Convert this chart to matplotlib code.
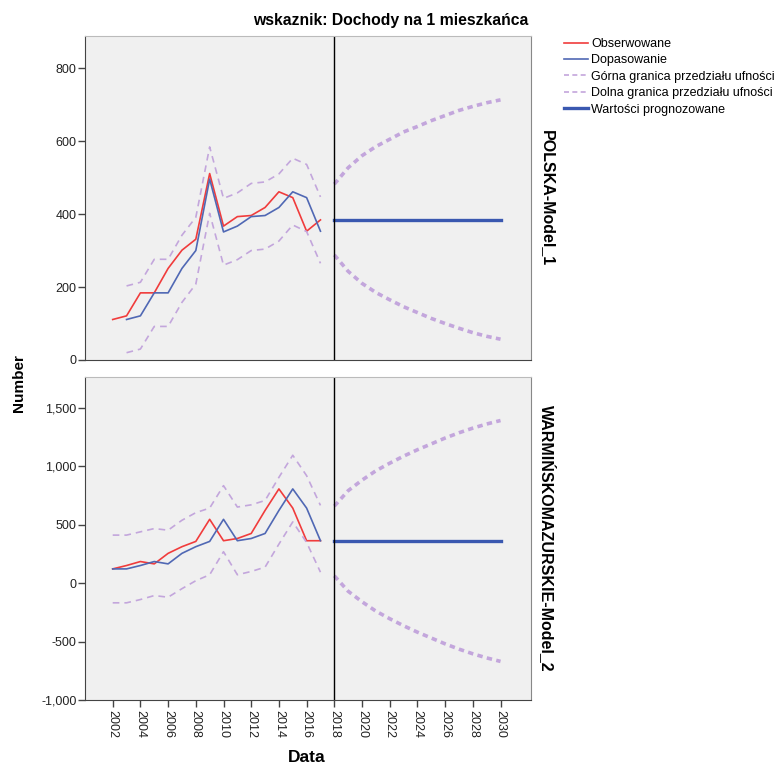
import matplotlib.pyplot as plt
from matplotlib.ticker import FuncFormatter
from matplotlib.lines import Line2D

plt.rcParams['font.family'] = ['Liberation Sans', 'DejaVu Sans']

# lata obserwacji i prognozy
years_obs = list(range(2002, 2018))
years_fc = list(range(2018, 2031))

# POLSKA - Model_1
pl_obs = [111, 121, 184, 184, 251, 301, 331, 511, 367, 393, 396, 418, 461, 445, 353, 384]
pl_fit_years = list(range(2003, 2018))
pl_fit = [111, 121, 184, 184, 251, 300, 496, 351, 367, 393, 396, 418, 461, 445, 353]
pl_ucl = [203, 213, 276, 276, 342, 391, 584, 443, 458, 484, 488, 510, 553, 536, 447]
pl_lcl = [20, 30, 92, 92, 158, 208, 402, 260, 275, 300, 304, 326, 370, 352, 265]
pl_fc = [385] * 13
pl_fc_ucl = [482, 527, 560, 585, 605, 625, 640, 656, 670, 684, 695, 705, 713]
pl_fc_lcl = [288, 243, 210, 185, 165, 146, 130, 114, 100, 87, 75, 65, 57]

# WARMIŃSKOMAZURSKIE - Model_2
wm_obs = [121, 150, 184, 164, 254, 311, 356, 545, 362, 381, 424, 621, 805, 641, 362, 362]
wm_fit_years = list(range(2002, 2018))
wm_fit = [121, 121, 150, 184, 164, 254, 311, 356, 545, 362, 381, 424, 621, 805, 641, 362]
wm_ucl = [410, 410, 438, 466, 452, 537, 602, 641, 833, 650, 669, 706, 904, 1093, 918, 664]
wm_lcl = [-169, -169, -141, -107, -121, -48, 20, 71, 268, 71, 99, 136, 333, 523, 347, 93]
wm_fc = [360] * 13
wm_fc_ucl = [658, 790, 880, 960, 1025, 1085, 1140, 1190, 1240, 1285, 1325, 1360, 1390]
wm_fc_lcl = [62, -70, -160, -240, -305, -365, -420, -470, -520, -565, -605, -640, -670]

panels = [
    ("POLSKA-Model_1", years_obs, pl_obs, pl_fit_years, pl_fit, pl_ucl, pl_lcl,
     pl_fc, pl_fc_ucl, pl_fc_lcl, (0, 888), [0, 200, 400, 600, 800]),
    ("WARMIŃSKOMAZURSKIE-Model_2", years_obs, wm_obs, wm_fit_years, wm_fit, wm_ucl, wm_lcl,
     wm_fc, wm_fc_ucl, wm_fc_lcl, (-1000, 1762), [-1000, -500, 0, 500, 1000, 1500]),
]

c_obs = '#f03c3c'
c_fit = '#5068b4'
c_ci = '#c3a6dc'
c_fc = '#3a58b0'

W, H = 778, 763
fig = plt.figure(figsize=(W / 100, H / 100), dpi=100, facecolor='w')

boxes = [(85, 36, 531, 360), (85, 377, 531, 700)]
fmt = FuncFormatter(lambda v, p: f"{v:,.0f}")

for i, (name, yo, obs, yf, fit, ucl, lcl, fc, fu, fl, ylim, yt) in enumerate(panels):
    x0, y0, x1, y1 = boxes[i]
    ax = fig.add_axes([x0 / W, 1 - y1 / H, (x1 - x0) / W, (y1 - y0) / H])
    ax.set_facecolor('#f0f0f0')
    ax.plot(yo, obs, color=c_obs, lw=1.2)
    ax.plot(yf, fit, color=c_fit, lw=1.2)
    ax.plot(yf, ucl, color=c_ci, lw=1.2, ls=(0, (4, 3)))
    ax.plot(yf, lcl, color=c_ci, lw=1.2, ls=(0, (4, 3)))
    ax.plot(years_fc, fc, color=c_fc, lw=2.4)
    ax.plot(years_fc, fu, color=c_ci, lw=2.6, ls=(0, (1.5, 1.2)))
    ax.plot(years_fc, fl, color=c_ci, lw=2.6, ls=(0, (1.5, 1.2)))
    ax.axvline(2018, color='black', lw=1)
    ax.set_xlim(2000, 2032.2)
    ax.set_ylim(*ylim)
    ax.set_yticks(yt)
    ax.yaxis.set_major_formatter(fmt)
    ax.tick_params(axis='y', direction='out', length=5, width=1, color='#444444',
                   labelsize=9, labelcolor='#222222', pad=1)
    ax.set_xticks(range(2002, 2031, 2))
    if i == 0:
        ax.tick_params(axis='x', bottom=False, labelbottom=False)
    else:
        ax.tick_params(axis='x', direction='out', length=5, width=1, color='#444444',
                       labelsize=9, labelcolor='#222222', labelrotation=270, pad=2)
    ax.spines['left'].set_color('#444444')
    ax.spines['bottom'].set_color('#444444')
    ax.spines['top'].set_color('#bbbbbb')
    ax.spines['right'].set_color('#888888')
    fig.text(547 / W, 1 - (y0 + y1) / 2 / H, name, rotation=270, ha='center', va='center',
             fontsize=11.5, fontweight='bold')

fig.text(391 / W, 1 - 20 / H, "wskaznik: Dochody na 1 mieszkańca", ha='center', va='center',
         fontsize=11.3, fontweight='bold')
fig.text(19 / W, 1 - 383 / H, "Number", rotation=90, ha='center', va='center',
         fontsize=11, fontweight='bold')
fig.text(307 / W, 1 - 757 / H, "Data", ha='center', va='center', fontsize=12.5, fontweight='bold')

handles = [
    Line2D([], [], color=c_obs, lw=1.2),
    Line2D([], [], color=c_fit, lw=1.2),
    Line2D([], [], color=c_ci, lw=1.2, ls=(0, (3, 2))),
    Line2D([], [], color=c_ci, lw=1.2, ls=(0, (3, 2))),
    Line2D([], [], color=c_fc, lw=2.4),
]
labels = ["Obserwowane", "Dopasowanie", "Górna granica przedziału ufności",
          "Dolna granica przedziału ufności", "Wartości prognozowane"]
fig.legend(handles, labels, loc='upper left', bbox_to_anchor=(564 / W, 1 - 38 / H),
           frameon=False, fontsize=9, handlelength=1.9, handletextpad=0.25,
           labelspacing=0.35, borderaxespad=0, borderpad=0)

fig.savefig('out.png', dpi=100)
